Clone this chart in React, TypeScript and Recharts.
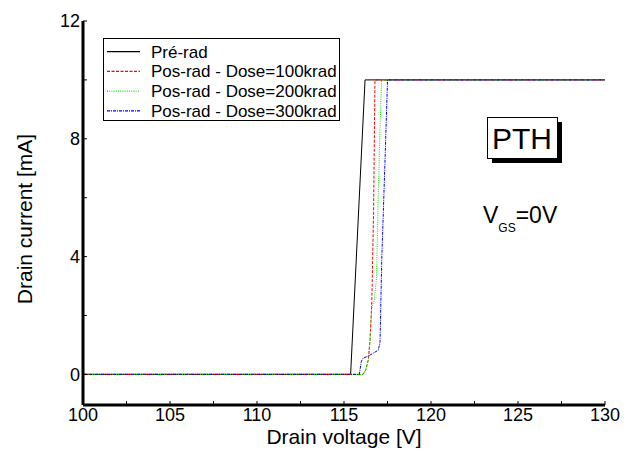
import React from 'react';
import { LineChart, Line, XAxis, YAxis, Legend, Label, Customized } from 'recharts';

const FONT = "Arial, 'Liberation Sans', sans-serif";

// Tick values
const xMajorTicks = [100, 105, 110, 115, 120, 125, 130];
const xMinorTicks = [102.5, 107.5, 112.5, 117.5, 122.5, 127.5];
const yMajorTicks = [0, 4, 8, 12];
const yMinorTicks = [2, 6, 10];

// Series (drain voltage [V], drain current [mA])
const preRadV = [100, 115.38, 116.21, 130];
const preRadI = [0, 0, 10, 10];

const dose100V = [100, 116.1, 116.25, 116.4, 116.5, 116.6, 116.7, 116.78, 130];
const dose100I = [0, 0, 0.15, 0.5, 1.2, 2.5, 5.5, 10, 10];

const dose200V = [100, 116.1, 116.25, 116.4, 116.5, 116.6, 116.74, 116.87, 116.97, 117.07, 117.16, 130];
const dose200I = [0, 0, 0.15, 0.5, 1.2, 2.3, 2.5, 3.3, 6.1, 8.4, 10, 10];

const dose300V = [100, 115.88, 116.0, 116.1, 116.39, 116.97, 117.07, 117.12, 117.17, 117.36, 117.5, 130];
const dose300I = [0, 0, 0.45, 0.55, 0.62, 0.82, 1.1, 2.5, 3.9, 7.3, 10, 10];

const seriesNames = ['Pré-rad', 'Pos-rad - Dose=100krad', 'Pos-rad - Dose=200krad', 'Pos-rad - Dose=300krad'];

const zip = (v: number[], i: number[]) => v.map((x, k) => ({ v: x, i: i[k] }));

const series = [
  { name: seriesNames[0], data: zip(preRadV, preRadI), color: '#000000', dash: undefined as string | undefined },
  { name: seriesNames[1], data: zip(dose100V, dose100I), color: '#ff0000', dash: '3 1.5' },
  { name: seriesNames[2], data: zip(dose200V, dose200I), color: '#00ee00', dash: '1 1.2' },
  { name: seriesNames[3], data: zip(dose300V, dose300I), color: '#0000ff', dash: '3 1 1 1' },
];

const xTicks = [...xMajorTicks, ...xMinorTicks].sort((a, b) => a - b);
const yTicks = [...yMajorTicks, ...yMinorTicks].sort((a, b) => a - b);
const fmtX = (v: number) => (xMajorTicks.includes(v) ? String(v) : '');
const fmtY = (v: number) => (yMajorTicks.includes(v) ? String(v) : '');
const blank = () => '';

const axisLine = { stroke: '#000', strokeWidth: 3 };
const tickLine = { stroke: '#000', strokeWidth: 1 };
const tickStyle = { fill: '#000', fontSize: 18, fontFamily: FONT };

const XTitle = (props: any) => {
  const { x, y, width } = props.viewBox;
  return (
    <text x={x + width / 2} y={y + 39} textAnchor="middle" fontSize={21} fontFamily={FONT} fill="#000">
      Drain voltage [V]
    </text>
  );
};

const YTitle = (props: any) => {
  const { x, y, width, height } = props.viewBox;
  const cx = x + width - 51;
  const cy = y + height / 2 + 6;
  return (
    <text x={cx} y={cy} transform={`rotate(-90 ${cx} ${cy})`} textAnchor="middle" fontSize={21} fontFamily={FONT} fill="#000">
      Drain current [mA]
    </text>
  );
};

const LegendBox = () => (
  <div style={{ width: 237, height: 83, border: '1px solid #000', boxSizing: 'border-box', background: '#fff' }}>
    <svg width={235} height={81} style={{ display: 'block' }}>
      {series.map((s, k) => {
        const cy = 12.7 + k * 19.7;
        return (
          <g key={s.name}>
            <path d={`M3,${cy}H36`} fill="none" stroke={s.color} strokeWidth={1.2} strokeDasharray={s.dash} />
            <text x={47} y={cy + 6} fontSize={17} fontFamily={FONT} fill="#000">{s.name}</text>
          </g>
        );
      })}
    </svg>
  </div>
);

const Annotations = () => (
  <g>
    <rect x={492} y={122} width={70} height={41} fill="#000" />
    <rect x={487.5} y={117.5} width={70} height={41} fill="#fff" stroke="#000" strokeWidth={1} />
    <text x={522} y={149} textAnchor="middle" fontSize={30} fontFamily={FONT} fill="#000">PTH</text>
    <text x={483} y={223} fontSize={23} fontFamily={FONT} fill="#000">
      V<tspan fontSize={12} dy={8.5}>GS</tspan><tspan fontSize={23} dy={-8.5}>=0V</tspan>
    </text>
  </g>
);

export default function App() {
  return (
    <div style={{ position: 'absolute', left: 0, top: 0, width: 635, height: 457, background: '#fff' }}>
      <LineChart width={635} height={457} margin={{ top: 21, right: 30, bottom: 0, left: 23 }}>
        <XAxis
          type="number"
          dataKey="v"
          domain={[100, 130]}
          allowDataOverflow
          ticks={xTicks}
          interval={0}
          tickFormatter={fmtX}
          axisLine={axisLine}
          tickLine={tickLine}
          tickSize={-4}
          tickMargin={7}
          height={52}
          tick={tickStyle}
        >
          <Label content={XTitle} />
        </XAxis>
        <XAxis
          xAxisId="top"
          orientation="top"
          type="number"
          domain={[100, 130]}
          allowDataOverflow
          ticks={xTicks}
          interval={0}
          tickFormatter={blank}
          axisLine={axisLine}
          tickLine={tickLine}
          tickSize={-4}
          height={0}
          tick={tickStyle}
        />
        <YAxis
          type="number"
          domain={[-1.04, 12]}
          allowDataOverflow
          ticks={yTicks}
          interval={0}
          tickFormatter={fmtY}
          axisLine={axisLine}
          tickLine={tickLine}
          tickSize={-4}
          tickMargin={7}
          width={60}
          tick={tickStyle}
        >
          <Label content={YTitle} />
        </YAxis>
        <YAxis
          yAxisId="right"
          orientation="right"
          type="number"
          domain={[-1.04, 12]}
          allowDataOverflow
          ticks={yTicks}
          interval={0}
          tickFormatter={blank}
          axisLine={axisLine}
          tickLine={tickLine}
          tickSize={-4}
          width={0}
          tick={tickStyle}
        />
        {series.map((s) => (
          <Line
            key={s.name}
            name={s.name}
            data={s.data}
            dataKey="i"
            type="linear"
            stroke={s.color}
            strokeWidth={1}
            strokeDasharray={s.dash}
            dot={false}
            activeDot={false}
            isAnimationActive={false}
          />
        ))}
        <Legend
          layout="vertical"
          align="center"
          verticalAlign="middle"
          wrapperStyle={{ left: 103, top: 38, width: 237, height: 83 }}
          content={LegendBox}
        />
        <Customized component={Annotations} />
      </LineChart>
    </div>
  );
}
